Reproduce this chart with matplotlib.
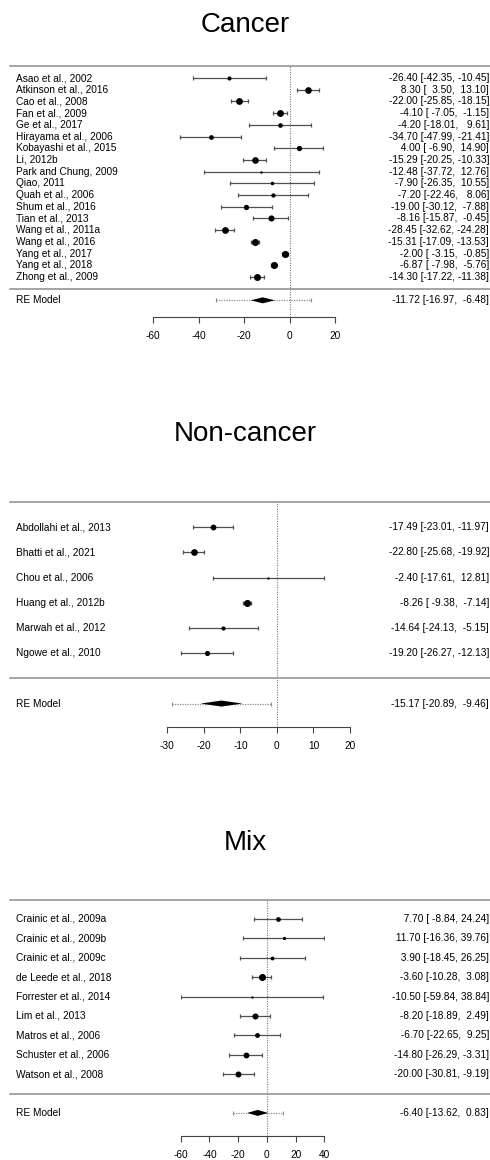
import numpy as np
import matplotlib.pyplot as plt
from matplotlib.transforms import blended_transform_factory

plt.rcParams['font.family'] = ['Liberation Sans', 'DejaVu Sans']

W, H = 490, 1160

# --- Cancer ---
cancer_studies = ['Asao et al., 2002', 'Atkinson et al., 2016', 'Cao et al., 2008',
                  'Fan et al., 2009', 'Ge et al., 2017', 'Hirayama et al., 2006',
                  'Kobayashi et al., 2015', 'Li, 2012b', 'Park and Chung, 2009',
                  'Qiao, 2011', 'Quah et al., 2006', 'Shum et al., 2016',
                  'Tian et al., 2013', 'Wang et al., 2011a', 'Wang et al., 2016',
                  'Yang et al., 2017', 'Yang et al., 2018', 'Zhong et al., 2009']
cancer_est = [-26.40, 8.30, -22.00, -4.10, -4.20, -34.70, 4.00, -15.29, -12.48,
              -7.90, -7.20, -19.00, -8.16, -28.45, -15.31, -2.00, -6.87, -14.30]
cancer_lo = [-42.35, 3.50, -25.85, -7.05, -18.01, -47.99, -6.90, -20.25, -37.72,
             -26.35, -22.46, -30.12, -15.87, -32.62, -17.09, -3.15, -7.98, -17.22]
cancer_hi = [-10.45, 13.10, -18.15, -1.15, 9.61, -21.41, 14.90, -10.33, 12.76,
             10.55, 8.06, -7.88, -0.45, -24.28, -13.53, -0.85, -5.76, -11.38]
cancer_re = [-11.72, -16.97, -6.48]
cancer_pi = [-32.3, 9.4]
cancer_ticks = [-60, -40, -20, 0, 20]

# --- Non-cancer ---
noncancer_studies = ['Abdollahi et al., 2013', 'Bhatti et al., 2021', 'Chou et al., 2006',
                     'Huang et al., 2012b', 'Marwah et al., 2012', 'Ngowe et al., 2010']
noncancer_est = [-17.49, -22.80, -2.40, -8.26, -14.64, -19.20]
noncancer_lo = [-23.01, -25.68, -17.61, -9.38, -24.13, -26.27]
noncancer_hi = [-11.97, -19.92, 12.81, -7.14, -5.15, -12.13]
noncancer_re = [-15.17, -20.89, -9.46]
noncancer_pi = [-28.8, -1.6]
noncancer_ticks = [-30, -20, -10, 0, 10, 20]

# --- Mix ---
mix_studies = ['Crainic et al., 2009a', 'Crainic et al., 2009b', 'Crainic et al., 2009c',
               'de Leede et al., 2018', 'Forrester et al., 2014', 'Lim et al., 2013',
               'Matros et al., 2006', 'Schuster et al., 2006', 'Watson et al., 2008']
mix_est = [7.70, 11.70, 3.90, -3.60, -10.50, -8.20, -6.70, -14.80, -20.00]
mix_lo = [-8.84, -16.36, -18.45, -10.28, -59.84, -18.89, -22.65, -26.29, -30.81]
mix_hi = [24.24, 39.76, 26.25, 3.08, 38.84, 2.49, 9.25, -3.31, -9.19]
mix_re = [-6.40, -13.62, 0.83]
mix_pi = [-23.4, 11.0]
mix_ticks = [-60, -40, -20, 0, 20, 40]

fig = plt.figure(figsize=(W / 100, H / 100), dpi=100)

LINE_GREY = '#8c8c8c'
CI_GREY = '#505050'


def fmt_col(vals):
    s = ['%.2f' % v for v in vals]
    w = max(len(x) for x in s)
    return [x.rjust(w) for x in s]


def forest(title, studies, est, lo, hi, re, pi, ticks, box, title_base, ybot):
    left, right, top, bottom = box
    k = len(studies)
    est, lo, hi = map(np.asarray, (est, lo, hi))
    ax = fig.add_axes([left / W, 1 - bottom / H, (right - left) / W, (bottom - top) / H])
    ax.set_xlim(ticks[0], ticks[-1])
    ax.set_ylim(ybot, k + 1)
    px_per_row = (bottom - top) / (k + 1 - ybot)
    rows = np.arange(k, 0, -1)
    tr = blended_transform_factory(fig.transFigure, ax.transData)

    fig.text(0.5, 1 - title_base / H, title, ha='center', va='baseline', fontsize=20)

    # frame lines across the full width
    for y in (k + 1, 0):
        ax.plot([9.5 / W, 1.0], [y, y], color=LINE_GREY, lw=1.1, transform=tr, clip_on=False)
    ax.axvline(0, color='#7a7a7a', lw=0.8, ls=(0, (1, 1.2)), zorder=1)

    # random-effects weights -> point sizes
    se = (hi - lo) / (2 * 1.96)
    se_re = (re[2] - re[1]) / (2 * 1.96)
    tau2 = max(((pi[1] - pi[0]) / (2 * 1.96)) ** 2 - se_re ** 2, 0)
    w = 1 / (se ** 2 + tau2)
    p = w / w.sum()
    psize = (p - p.min()) / (p.max() - p.min()) + 0.5

    ax.errorbar(est, rows, xerr=[est - lo, hi - est], fmt='none', ecolor=CI_GREY,
                elinewidth=0.9, capsize=1.5, capthick=0.9, zorder=2)
    for x, y, s in zip(est, rows, psize):
        ax.plot(x, y, 'o', color='black', ms=3.4 * s, mew=0, zorder=3)

    # summary row
    ax.plot(pi, [-1, -1], color=LINE_GREY, lw=0.9, ls=(0, (1, 1)), zorder=2)
    ax.plot(pi, [-1, -1], ls='none', marker='|', ms=3, mew=0.8, color=LINE_GREY, zorder=2)
    d = 3.0 / px_per_row
    ax.fill([re[1], re[0], re[2], re[0]], [-1, -1 + d, -1, -1 - d], color='black', lw=0, zorder=4)

    # text columns
    ce = fmt_col(list(est) + [re[0]])
    cl = fmt_col(list(lo) + [re[1]])
    ch = fmt_col(list(hi) + [re[2]])
    labels = list(studies) + ['RE Model']
    ys = list(rows) + [-1]
    for lab, e, l, h, y in zip(labels, ce, cl, ch, ys):
        ax.text(15.5 / W, y, lab, transform=tr, ha='left', va='center', fontsize=7.3, clip_on=False)
        ax.text(489 / W, y, '%s [%s, %s]' % (e, l, h), transform=tr, ha='right', va='center',
                fontsize=7.3, clip_on=False)

    for side in ('top', 'left', 'right'):
        ax.spines[side].set_visible(False)
    ax.spines['bottom'].set_color('#444444')
    ax.spines['bottom'].set_linewidth(0.8)
    ax.set_xticks(ticks)
    ax.set_xticklabels([str(t) for t in ticks])
    ax.set_yticks([])
    ax.tick_params(axis='x', direction='out', length=4.3, width=0.8, color='#444444',
                   labelsize=7.3, pad=6)
    ax.patch.set_alpha(0)
    return ax


forest('Cancer', cancer_studies, cancer_est, cancer_lo, cancer_hi, cancer_re, cancer_pi,
       cancer_ticks, (153, 335, 66.3, 316.7), 32.3, -2.4)
forest('Non-cancer', noncancer_studies, noncancer_est, noncancer_lo, noncancer_hi,
       noncancer_re, noncancer_pi, noncancer_ticks, (167.3, 350, 502, 727), 441, -1.93)
forest('Mix', mix_studies, mix_est, mix_lo, mix_hi, mix_re, mix_pi,
       mix_ticks, (180.7, 324.3, 899.6, 1136), 850, -2.19)

fig.savefig('out.png', dpi=100, facecolor='white')
